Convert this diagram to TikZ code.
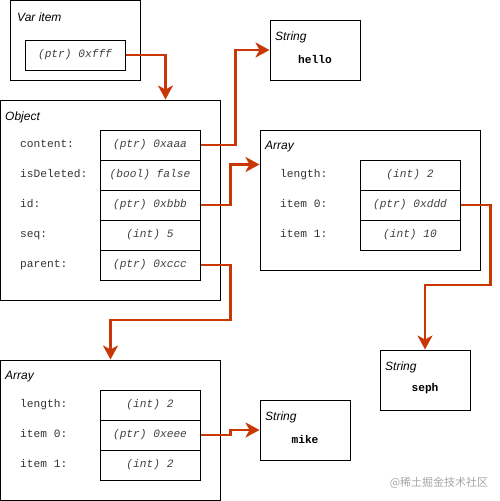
\documentclass[tikz,border=0pt]{standalone}
\usepackage{fontspec}
\setmainfont{Liberation Sans}
\setmonofont{Liberation Mono}
\newfontfamily\cjkfont{Noto Sans CJK SC}
\usetikzlibrary{arrows.meta}
\definecolor{ptrred}{RGB}{200,55,5}

\begin{document}
\begin{tikzpicture}[x=1pt, y=-1pt,
  box/.style={draw, line width=1pt, inner sep=0pt},
  cell/.style={draw, line width=1pt, minimum width=100pt, minimum height=30pt, inner sep=0pt,
    text height=8pt, text depth=2.5pt, text=black!75, font=\ttfamily\itshape\fontsize{11.2}{13}\selectfont},
  title/.style={anchor=west, inner sep=0pt, font=\itshape\fontsize{12}{14}\selectfont},
  field/.style={anchor=west, inner sep=0pt, text height=8pt, text depth=2.5pt, text=black!80,
    font=\ttfamily\fontsize{11.2}{13}\selectfont},
  strval/.style={inner sep=0pt, font=\ttfamily\bfseries\fontsize{11.2}{13}\selectfont},
  link/.style={draw=ptrred, line width=2.8pt, -{Stealth[length=14pt,width=15pt,inset=4pt]}}]
  \useasboundingbox (0,0) rectangle (500,501);
  % Var item
  \node[box, minimum width=130pt, minimum height=80pt] (varitem) at (75,40) {};
  \node[title] at (17,17) {Var item};
  \node[cell] (v-ptr) at (75,55) {(ptr) 0xfff};
  % Object
  \node[box, minimum width=220pt, minimum height=200pt] (obj) at (110.5,200) {};
  \node[title] at (5,117) {Object};
  \foreach \y/\key/\lbl/\val in {145/content/content:/{(ptr) 0xaaa},
      175/isdeleted/isDeleted:/{(bool) false}, 205/id/id:/{(ptr) 0xbbb},
      235/seq/seq:/{(int) 5}, 265/parent/parent:/{(ptr) 0xccc}}
  {
    \node[field] at (20,\y) {\lbl};
    \node[cell] (o-\key) at (150,\y) {\val};
  }
  % Array (id)
  \node[box, minimum width=220pt, minimum height=140pt] (arr1) at (370,200) {};
  \node[title] at (265,147) {Array};
  \foreach \y/\key/\lbl/\val in {175/length/length:/{(int) 2},
      205/item0/item 0:/{(ptr) 0xddd}, 235/item1/item 1:/{(int) 10}}
  {
    \node[field] at (280,\y) {\lbl};
    \node[cell] (a1-\key) at (410,\y) {\val};
  }
  % Array (parent)
  \node[box, minimum width=220pt, minimum height=140pt] (arr2) at (110.5,430) {};
  \node[title] at (5,377) {Array};
  \foreach \y/\key/\lbl/\val in {405/length/length:/{(int) 2},
      435/item0/item 0:/{(ptr) 0xeee}, 465/item1/item 1:/{(int) 2}}
  {
    \node[field] at (20,\y) {\lbl};
    \node[cell] (a2-\key) at (150,\y) {\val};
  }
  % Strings
  \node[box, minimum width=90pt, minimum height=60pt] (hello) at (315,50) {};
  \node[title] at (275,37) {String};
  \node[strval] at (315,59) {hello};
  \node[box, minimum width=90pt, minimum height=60pt] (seph) at (425,380) {};
  \node[title] at (385,367) {String};
  \node[strval] at (425,389) {seph};
  \node[box, minimum width=90pt, minimum height=60pt] (mike) at (305,430) {};
  \node[title] at (265,417) {String};
  \node[strval] at (305,439) {mike};
  % Pointers
  \draw[link] (v-ptr.east) -| ([xshift=55pt]obj.north);
  \draw[link] (o-content.east) -- ++(35,0) |- (hello.west);
  \draw[link] (o-id.east) -- ++(30,0) |- ([yshift=-35pt]arr1.north west);
  \draw[link] (o-parent.east) -- ++(30,0) -- ++(0,55) -| (arr2.north);
  \draw[link] (a1-item0.east) -- ++(30,0) -- ++(0,80) -| (seph.north);
  \draw[link] (a2-item0.east) -- ++(30,0) |- (mike.west);
  % Watermark
  \node[text=black!35, inner sep=0pt, font=\cjkfont\fontsize{11}{13}\selectfont] (mark) at (439,483) {@稀土掘金技术社区};
\end{tikzpicture}
\end{document}
